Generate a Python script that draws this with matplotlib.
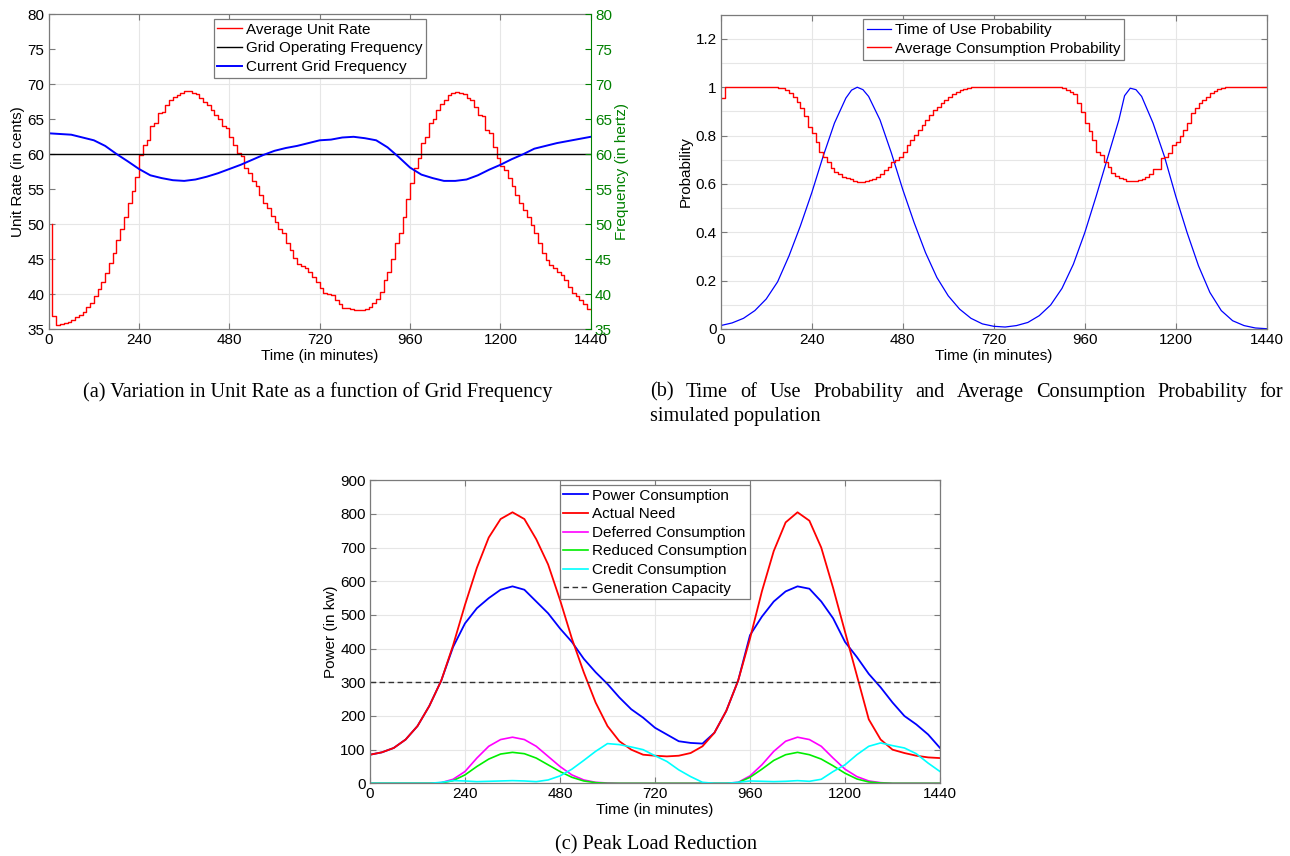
"""Three-panel figure: unit rate vs grid frequency, usage probabilities, peak load."""

import matplotlib.pyplot as plt
import numpy as np
from matplotlib.ticker import MultipleLocator

plt.rcParams['font.family'] = ['Liberation Sans', 'DejaVu Sans']

MINUTES_10 = np.arange(0, 1441, 10)
MINUTES_30 = np.arange(0, 1441, 30)
TIME_TICKS = [0, 240, 480, 720, 960, 1200, 1440]

# (a) average unit rate (cents), one step per 10 minutes from t=10 to t=1440
RATE_START = 50.0
UNIT_RATE = [
    36.9, 35.6, 35.7, 35.9, 36.1, 36.3, 36.7, 37.0, 37.5, 38.2, 38.8, 39.7,
    40.7, 41.8, 43.0, 44.5, 45.9, 47.7, 49.4, 51.1, 53.0, 54.8, 56.7, 59.9,
    61.3, 62.1, 64.0, 64.5, 65.9, 66.0, 67.0, 67.8, 68.2, 68.5, 68.8, 69.0,
    69.1, 68.7, 68.6, 68.0, 67.5, 67.0, 66.3, 65.6, 65.0, 64.0, 63.7, 62.4,
    61.3, 60.2, 59.7, 58.1, 57.3, 56.2, 55.4, 54.2, 53.1, 52.3, 51.2, 50.4,
    49.4, 48.7, 47.4, 46.3, 45.2, 44.3, 44.1, 43.7, 43.2, 42.5, 41.8, 40.9,
    40.2, 40.0, 39.9, 39.2, 38.6, 38.0, 38.0, 37.9, 37.8, 37.8, 37.7, 37.9,
    38.2, 38.7, 39.4, 40.3, 42.0, 43.2, 45.0, 47.3, 48.7, 51.1, 53.6, 55.9,
    58.1, 59.4, 61.6, 62.5, 64.4, 65.1, 66.3, 67.2, 67.8, 68.5, 68.8, 68.9,
    68.8, 68.6, 68.1, 67.7, 66.8, 65.6, 65.5, 63.5, 63.1, 61.1, 59.4, 58.3,
    57.8, 56.6, 55.4, 54.2, 53.1, 52.0, 51.1, 49.9, 48.7, 47.3, 45.9, 44.9,
    44.2, 43.7, 43.2, 42.8, 42.0, 41.1, 40.2, 39.7, 39.2, 38.6, 37.9, 37.9,
]
OPERATING_FREQ = 60.0
# current grid frequency (Hz), every 30 minutes
GRID_FREQ = [
    63.0, 62.9, 62.8, 62.4, 62.0, 61.2, 60.05, 59.0, 57.9, 57.0, 56.6, 56.3, 56.2,
    56.4, 56.8, 57.3, 57.9, 58.5, 59.2, 59.9, 60.5, 60.9, 61.2, 61.6, 62.0,
    62.1, 62.4, 62.5, 62.3, 62.0, 61.0, 59.6, 58.1, 57.1, 56.6, 56.2, 56.2,
    56.4, 57.0, 57.8, 58.5, 59.3, 60.0, 60.8, 61.2, 61.6, 61.9, 62.2, 62.5,
]

# (b) time-of-use probability; denser samples around the two peaks
TOU_MINUTES = [
    0, 30, 60, 90, 120, 150, 180, 210, 240, 270, 300, 330, 345, 360, 375,
    390, 420, 450, 480, 510, 540, 570, 600, 630, 660, 690, 720,
    750, 780, 810, 840, 870, 900, 930, 960, 990, 1020, 1050, 1065, 1080, 1095,
    1110, 1140, 1170, 1200, 1230, 1260, 1290, 1320, 1350, 1380, 1410, 1440,
]
TOU_PROB = [
    0.014, 0.025, 0.044, 0.076, 0.124, 0.195, 0.302, 0.426, 0.563, 0.714, 0.852, 0.955,
    0.988, 1.0, 0.99,
    0.962, 0.865, 0.728, 0.577, 0.440, 0.316, 0.213, 0.137, 0.082, 0.044, 0.021, 0.011,
    0.008, 0.014, 0.027, 0.055, 0.099, 0.168, 0.268, 0.398, 0.549, 0.707, 0.865,
    0.965, 0.996, 0.99,
    0.962, 0.852, 0.714, 0.549, 0.398, 0.261, 0.151, 0.076, 0.034, 0.014, 0.004, 0.001,
]
# average consumption probability, one step per 10 minutes
CONSUMPTION_PROB = [
    0.955, 1.0, 1.0, 1.0, 1.0, 1.0, 1.0, 1.0, 1.0, 1.0, 1.0, 1.0,
    1.0, 1.0, 0.999, 0.998, 0.996, 0.989, 0.975, 0.961, 0.941, 0.913, 0.879, 0.837,
    0.810, 0.775, 0.734, 0.713, 0.690, 0.665, 0.648, 0.640, 0.630, 0.623, 0.619, 0.612,
    0.610, 0.610, 0.612, 0.617, 0.621, 0.630, 0.640, 0.658, 0.672, 0.692, 0.699, 0.713,
    0.734, 0.759, 0.782, 0.803, 0.823, 0.844, 0.865, 0.885, 0.906, 0.920, 0.934, 0.948,
    0.961, 0.972, 0.982, 0.989, 0.993, 0.996, 0.999, 1.0, 1.0, 1.0, 1.0, 1.0,
    1.0, 1.0, 1.0, 1.0, 1.0, 1.0, 1.0, 1.0, 1.0, 1.0, 1.0, 1.0,
    1.0, 1.0, 1.0, 1.0, 1.0, 1.0, 0.996, 0.989, 0.982, 0.971, 0.934, 0.899,
    0.851, 0.817, 0.782, 0.734, 0.720, 0.690, 0.672, 0.644, 0.634, 0.626, 0.621, 0.614,
    0.611, 0.612, 0.617, 0.621, 0.630, 0.640, 0.661, 0.663, 0.706, 0.713, 0.727, 0.759,
    0.775, 0.800, 0.823, 0.851, 0.892, 0.916, 0.934, 0.948, 0.961, 0.975, 0.986, 0.993,
    0.996, 0.999, 1.0, 1.0, 1.0, 1.0, 1.0, 1.0, 1.0, 1.0, 1.0, 1.0,
    1.0,
]

# (c) power (kW), every 30 minutes
POWER_USED = [
    85, 92, 105, 130, 170, 230, 305, 405, 475, 520, 550, 575, 585,
    575, 540, 505, 460, 420, 370, 330, 295, 255, 220, 195, 165,
    145, 125, 120, 118, 150, 215, 305, 440, 495, 540, 570, 585,
    578, 540, 490, 420, 375, 325, 285, 240, 200, 175, 145, 105,
]
ACTUAL_NEED = [
    85, 92, 105, 130, 170, 230, 305, 410, 530, 640, 730, 785, 805,
    785, 725, 650, 545, 430, 330, 240, 170, 125, 100, 85, 82,
    80, 82, 90, 110, 150, 215, 305, 430, 570, 690, 775, 805,
    780, 700, 580, 450, 320, 190, 130, 100, 90, 82, 77, 75,
]
DEFERRED = [
    0, 0, 0, 0, 0, 0, 2, 12, 35, 75, 110, 130, 137,
    130, 110, 80, 50, 25, 10, 3, 1, 0, 0, 0, 0,
    0, 0, 0, 0, 0, 0, 3, 22, 55, 95, 125, 137,
    130, 110, 75, 42, 20, 7, 2, 0, 0, 0, 0, 0,
]
REDUCED = [
    0, 0, 0, 0, 0, 0, 1, 8, 25, 50, 72, 87, 92,
    88, 75, 55, 35, 18, 7, 2, 0, 0, 0, 0, 0,
    0, 0, 0, 0, 0, 0, 2, 18, 42, 68, 85, 92,
    85, 72, 52, 30, 13, 4, 1, 0, 0, 0, 0, 0,
]
CREDIT = [
    0, 0, 0, 0, 0, 0, 3, 8, 7, 5, 6, 7, 8,
    7, 5, 10, 22, 42, 68, 95, 118, 115, 108, 100, 82,
    65, 40, 20, 3, 0, 0, 3, 7, 6, 5, 6, 8,
    6, 12, 35, 55, 85, 110, 120, 112, 105, 88, 60, 35,
]
CAPACITY = 300

FRAME = '#7a7a7a'
GRID = '#e6e6e6'
GREEN = '#008000'
TICK_SIZE = 11
LABEL_SIZE = 11
CAPTION_SIZE = 14.6


def style_axes(ax, right=True):
    ax.set_xlim(0, 1440)
    ax.set_xticks(TIME_TICKS)
    for side in ax.spines.values():
        side.set_color(FRAME)
        side.set_linewidth(0.9)
    ax.tick_params(direction='in', length=4, width=0.8, color=FRAME,
                   labelsize=TICK_SIZE, labelcolor='black', top=True, right=right, pad=3)
    ax.tick_params(which='minor', length=0)
    ax.set_axisbelow(True)
    ax.grid(axis='x', color=GRID, linewidth=0.8)
    ax.set_xlabel('Time (in minutes)', fontsize=LABEL_SIZE, labelpad=1)


def add_legend(ax):
    leg = ax.legend(loc='upper center', fontsize=LABEL_SIZE, fancybox=False,
                    edgecolor=FRAME, framealpha=1, handlelength=1.6,
                    handletextpad=0.25, borderpad=0.25, labelspacing=0.3,
                    borderaxespad=0.3)
    leg.get_frame().set_linewidth(0.9)


def justified_line(fig, words, x0, x1, y, **kw):
    renderer = fig.canvas.get_renderer()
    texts = [fig.text(0, y, w, va='center', **kw) for w in words]
    widths = [t.get_window_extent(renderer).width / fig.bbox.width for t in texts]
    gap = (x1 - x0 - sum(widths)) / (len(words) - 1)
    x = x0
    for t, w in zip(texts, widths):
        t.set_x(x)
        x += w + gap


fig = plt.figure(figsize=(12.9, 8.56), dpi=100)
caption_font = dict(family='Liberation Serif', fontsize=CAPTION_SIZE)

# (a) unit rate and grid frequency
ax_a = fig.add_axes([0.03775, 0.6153, 0.4202, 0.368])
rate_t = np.concatenate([[10], MINUTES_10[1:]])
rate_v = [RATE_START] + UNIT_RATE
ax_a.plot(rate_t, rate_v, color='red', lw=1.0, drawstyle='steps-post',
          label='Average Unit Rate')
ax_a.axhline(OPERATING_FREQ, color='black', lw=1.0, label='Grid Operating Frequency')
ax_a.plot(MINUTES_30, GRID_FREQ, color='blue', lw=1.4, label='Current Grid Frequency')
ax_a.set_ylim(35, 80)
ax_a.set_yticks(range(35, 81, 5))
for v in range(40, 80, 10):
    ax_a.axhline(v, color=GRID, lw=0.8, zorder=0)
style_axes(ax_a, right=False)
ax_a.spines['right'].set_visible(False)
ax_a.set_ylabel('Unit Rate (in cents)', fontsize=LABEL_SIZE, labelpad=2)
add_legend(ax_a)

ax_f = ax_a.twinx()
ax_f.set_ylim(35, 80)
ax_f.set_yticks(range(35, 81, 5))
for name in ('left', 'top', 'bottom'):
    ax_f.spines[name].set_visible(False)
ax_f.spines['right'].set_color(GREEN)
ax_f.tick_params(direction='in', length=4, width=0.8, color=GREEN,
                 labelsize=TICK_SIZE, labelcolor=GREEN, pad=3)
ax_f.set_ylabel('Frequency (in hertz)', fontsize=LABEL_SIZE, color=GREEN, labelpad=2)

# (b) probabilities
ax_b = fig.add_axes([0.5587, 0.6157, 0.4233, 0.3671])
ax_b.plot(TOU_MINUTES, TOU_PROB, color='blue', lw=0.9, label='Time of Use Probability')
ax_b.plot(MINUTES_10, CONSUMPTION_PROB, color='red', lw=1.0, drawstyle='steps-post',
          label='Average Consumption Probability')
ax_b.set_ylim(0, 1.3)
ax_b.set_yticks([0, 0.2, 0.4, 0.6, 0.8, 1.0, 1.2])
ax_b.set_yticklabels(['0', '0.2', '0.4', '0.6', '0.8', '1', '1.2'])
ax_b.yaxis.set_minor_locator(MultipleLocator(0.1))
style_axes(ax_b)
ax_b.grid(axis='y', which='both', color=GRID, linewidth=0.8)
ax_b.set_ylabel('Probability', fontsize=LABEL_SIZE, labelpad=2)
add_legend(ax_b)

# (c) peak load reduction
ax_c = fig.add_axes([0.2868, 0.0849, 0.4419, 0.354])
ax_c.plot(MINUTES_30, POWER_USED, color='blue', lw=1.3, label='Power Consumption')
ax_c.plot(MINUTES_30, ACTUAL_NEED, color='red', lw=1.3, label='Actual Need')
ax_c.plot(MINUTES_30, DEFERRED, color='#ff00ff', lw=1.2, label='Deferred Consumption')
ax_c.plot(MINUTES_30, REDUCED, color='#00ee00', lw=1.2, label='Reduced Consumption')
ax_c.plot(MINUTES_30, CREDIT, color='#00ffff', lw=1.2, label='Credit Consumption')
ax_c.axhline(CAPACITY, color='#333333', lw=1.0, ls=(0, (4, 2.5)), label='Generation Capacity')
ax_c.set_ylim(0, 900)
ax_c.set_yticks(range(0, 901, 100))
style_axes(ax_c)
ax_c.grid(axis='y', color=GRID, linewidth=0.8)
ax_c.set_ylabel('Power (in kw)', fontsize=LABEL_SIZE, labelpad=2)
add_legend(ax_c)

# captions
fig.text(0.2465, 0.542, '(a) Variation in Unit Rate as a function of Grid Frequency',
         ha='center', va='center', **caption_font)
justified_line(fig, '(b) Time of Use Probability and Average Consumption Probability for'.split(),
               0.5039, 0.9946, 0.542, **caption_font)
fig.text(0.5039, 0.5129, 'simulated population', ha='left', va='center', **caption_font)
fig.text(0.5085, 0.0129, '(c) Peak Load Reduction', ha='center', va='center', **caption_font)

fig.savefig('out.png', dpi=100)
